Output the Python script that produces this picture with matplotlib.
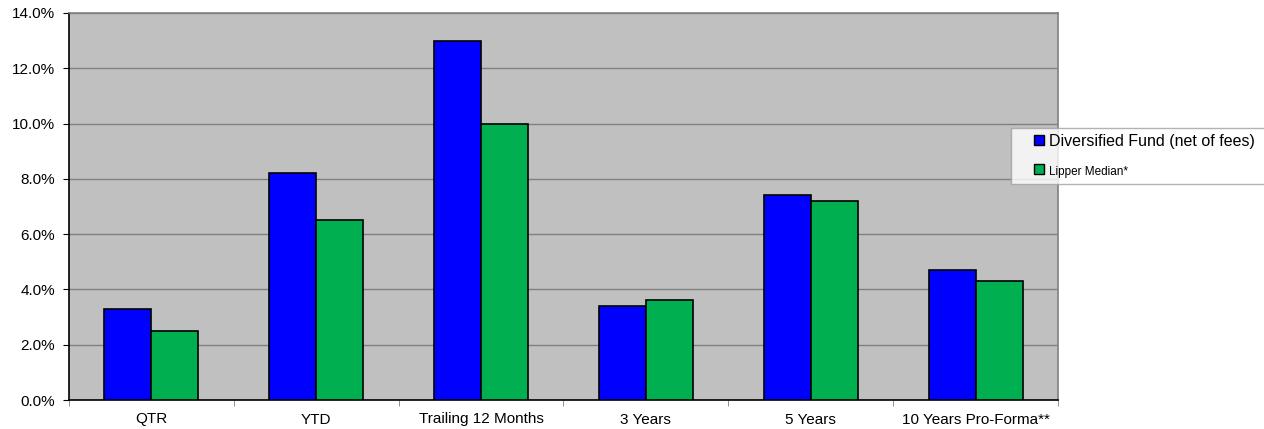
import matplotlib
matplotlib.use("Agg")
import matplotlib.pyplot as plt
import numpy as np
from matplotlib.lines import Line2D
from matplotlib.ticker import FuncFormatter, MultipleLocator

categories = ["QTR", "YTD", "Trailing 12 Months", "3 Years", "5 Years", "10 Years Pro-Forma**"]
fund = [3.3, 8.2, 13.0, 3.4, 7.4, 4.7]
lipper = [2.5, 6.5, 10.0, 3.6, 7.2, 4.3]
series_names = ["Diversified Fund (net of fees)", "Lipper Median*"]
colors = ['#0000FF', '#00B050']

plt.rcParams['font.family'] = ['Liberation Sans', 'DejaVu Sans']

fig = plt.figure(figsize=(12.64, 4.29), dpi=100)
ax = fig.add_axes([69/1264, 1-400/429, (1058-69)/1264, (400-13)/429])
ax.set_facecolor('#C0C0C0')

x = np.arange(len(categories))
w = 0.285
ax.bar(x - w/2, fund, w, color=colors[0], edgecolor='black', linewidth=1.2, zorder=3)
ax.bar(x + w/2, lipper, w, color=colors[1], edgecolor='black', linewidth=1.2, zorder=3)

ax.set_xlim(-0.5, len(categories) - 0.5)
ax.set_ylim(0, 14)
ax.yaxis.set_major_locator(MultipleLocator(2))
ax.yaxis.set_major_formatter(FuncFormatter(lambda v, p: f"{v:.1f}%"))
ax.grid(axis='y', color='#808080', linewidth=1, zorder=0)
ax.set_axisbelow(True)

ax.set_xticks(x)
ax.set_xticklabels(categories, fontsize=11)
ax.tick_params(axis='x', length=0, pad=9)
ax.set_xticks(np.arange(-0.5, len(categories)), minor=True)
ax.tick_params(axis='x', which='minor', length=4, color='#808080', direction='out')
ax.tick_params(axis='y', labelsize=11, length=4, color='black', direction='out', pad=6)

for s in ['top', 'right']:
    ax.spines[s].set_color('#808080')
    ax.spines[s].set_linewidth(1.2)
for s in ['left', 'bottom']:
    ax.spines[s].set_color('black')
    ax.spines[s].set_linewidth(1.2)

handles = [Line2D([], [], linestyle='none', marker='s', markersize=6.5,
                  markerfacecolor=c, markeredgecolor='black', markeredgewidth=1)
           for c in colors]
leg = fig.legend(handles, series_names, loc='upper left',
                 bbox_to_anchor=(1011/1264, 1-183/429, 300/1264, 55/429),
                 mode='expand', frameon=True, fancybox=False, fontsize=11.5,
                 handlelength=2.8, handletextpad=-0.8, numpoints=1,
                 borderpad=0.38, labelspacing=0.9, borderaxespad=0)
leg.get_frame().set_edgecolor('#A0A0A0')
leg.get_frame().set_linewidth(1)
texts = leg.get_texts()
texts[0].set_fontsize(11.5)
texts[1].set_fontsize(8.5)

fig.savefig('out.png', dpi=100)
